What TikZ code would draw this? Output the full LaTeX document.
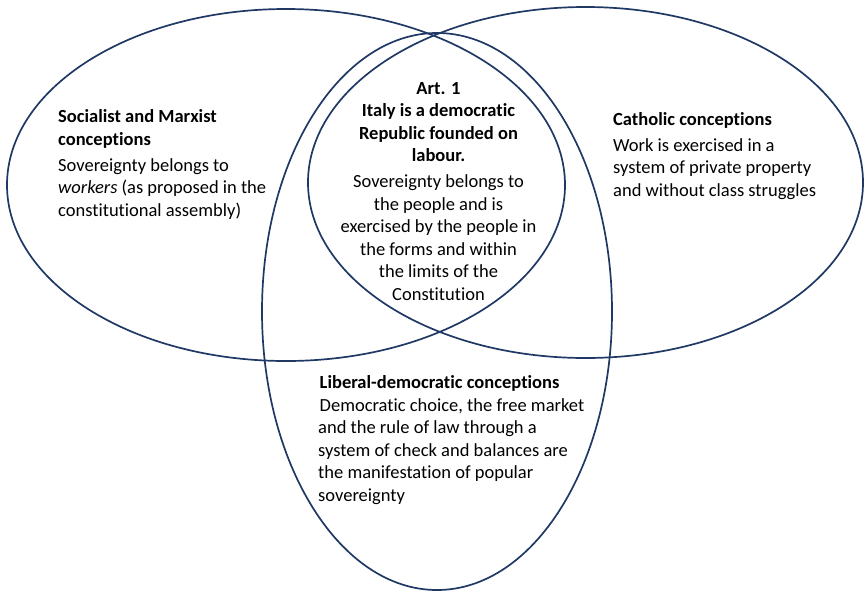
\documentclass[tikz,border=0pt]{standalone}
\usepackage{fontspec}
\setmainfont{Carlito}[Ligatures=NoCommon]
\definecolor{vennline}{RGB}{31,56,100}
\begin{document}
\begin{tikzpicture}[x=1pt,y=-1pt,
  setline/.style={draw=vennline,line width=1.7pt},
  setlabel/.style={inner sep=0pt,font=\fontsize{18.5}{22.5}\selectfont,text=black}]
\useasboundingbox (0,0) rectangle (864,590);
% the three conceptions
\draw[setline] (286,185) ellipse [x radius=279pt,y radius=176pt];
\draw[setline] (585.5,182.5) ellipse [x radius=277.5pt,y radius=175.5pt];
\draw[setline] (437,311.5) ellipse [x radius=175pt,y radius=278.5pt];
% texts (each placed by the baseline of its last line)
\node[setlabel,anchor=base west,align=left] (socialist) at (58,216)
  {\textbf{Socialist and Marxist}\\\textbf{conceptions}\\[3.5pt]
   Sovereignty belongs to\\\textit{workers} (as proposed in the\\constitutional assembly)};
\node[setlabel,anchor=base west,align=left] (catholic) at (613,196)
  {\textbf{Catholic conceptions}\\[3.5pt]
   Work is exercised in a\\system of private property\\and without class struggles};
\node[setlabel,anchor=base,align=center] (art1) at (438.5,300.3)
  {\textbf{Art. 1}\\\textbf{Italy is a democratic}\\\textbf{Republic founded on}\\\textbf{labour.}\\[3.5pt]
   Sovereignty belongs to\\the people and is\\exercised by the people in\\the forms and within\\the limits of the\\Constitution};
\node[setlabel,anchor=base west,align=left] (liberal) at (318,501)
  {\hspace*{1.5pt}\textbf{Liberal-democratic conceptions}\\
   \hspace*{1.5pt}Democratic choice, the free market\\and the rule of law through a\\system of check and balances are\\the manifestation of popular\\sovereignty};
\end{tikzpicture}
\end{document}
